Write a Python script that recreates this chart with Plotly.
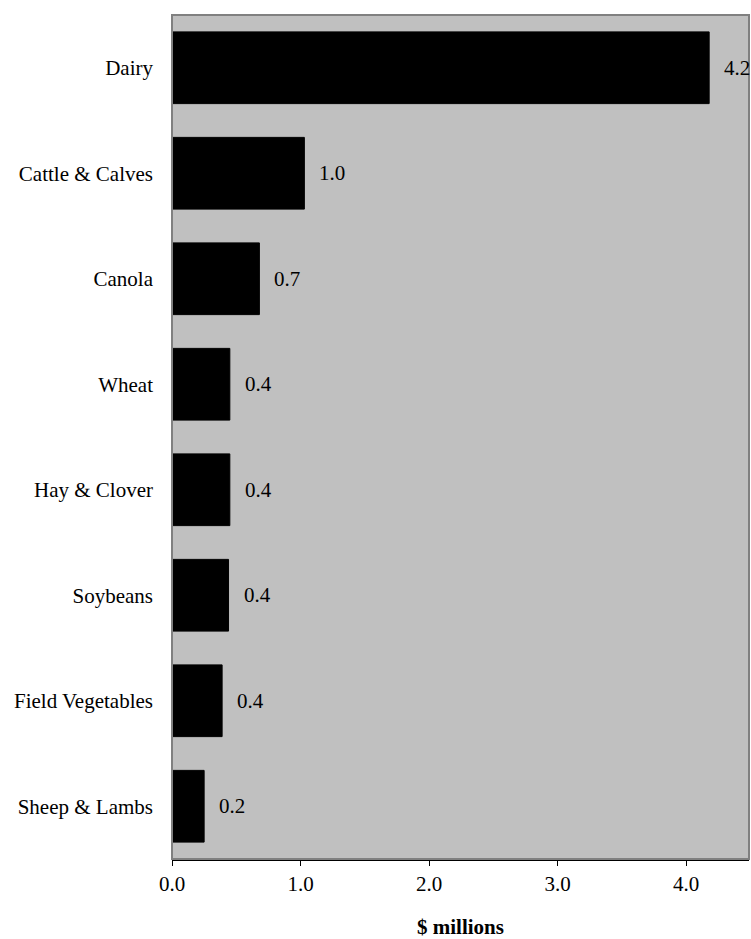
import plotly.graph_objects as go

categories = ["Dairy", "Cattle & Calves", "Canola", "Wheat", "Hay & Clover",
              "Soybeans", "Field Vegetables", "Sheep & Lambs"]
values = [4.18, 1.03, 0.68, 0.45, 0.45, 0.44, 0.39, 0.25]
labels = ["4.2", "1.0", "0.7", "0.4", "0.4", "0.4", "0.4", "0.2"]
x_ticks = [0, 1, 2, 3, 4]
x_tick_labels = ["0.0", "1.0", "2.0", "3.0", "4.0"]

FONT = "Liberation Serif, Times New Roman, serif"

fig = go.Figure()
fig.add_trace(go.Bar(
    y=categories, x=values, orientation="h",
    marker=dict(color="#000000", line=dict(color="#000000", width=1)),
    width=0.68, hoverinfo="skip",
))

for c, v, t in zip(categories, values, labels):
    fig.add_annotation(x=v, y=c, text=t, showarrow=False, xanchor="left",
                       xshift=13, font=dict(family=FONT, size=21, color="#000000"))

fig.add_shape(type="rect", xref="paper", yref="paper", x0=0, x1=1, y0=0, y1=1,
              line=dict(color="#808080", width=2), layer="above")

fig.update_layout(
    width=751, height=939,
    margin=dict(l=172, r=2, t=15, b=75),
    paper_bgcolor="#FFFFFF", plot_bgcolor="#C0C0C0",
    font=dict(family=FONT, size=21, color="#000000"),
    showlegend=False, bargap=0.32,
    xaxis=dict(range=[0, 4.49], tickvals=x_ticks, ticktext=x_tick_labels,
               ticks="outside", ticklen=5, tickwidth=1, tickcolor="#000000",
               showgrid=False, zeroline=False, showline=True, linecolor="#000000",
               linewidth=2, mirror=False,
               title=dict(text="<b>$ millions</b>", standoff=26,
                          font=dict(family=FONT, size=21))),
    yaxis=dict(categoryorder="array", categoryarray=categories[::-1],
               autorange=False, range=[-0.5, 7.5],
               showgrid=False, zeroline=False, ticks="", showline=False,
               ticklabelstandoff=18),
)

fig.write_html(
    "out.html",
    config={"displayModeBar": False, "staticPlot": True},
    post_script="document.body.style.margin='0';document.body.style.overflow='hidden';",
)
